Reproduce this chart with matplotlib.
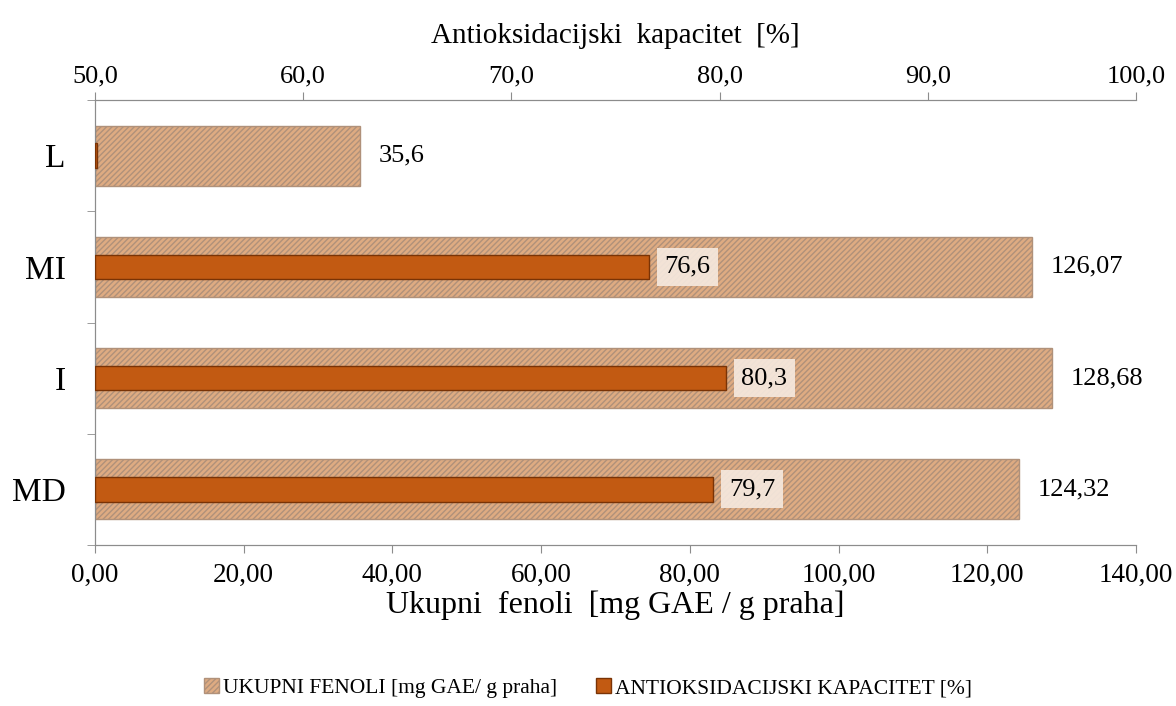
import matplotlib
matplotlib.use("Agg")
import matplotlib.pyplot as plt
from matplotlib.patches import Patch
import numpy as np

plt.rcParams['font.family'] = ['Liberation Serif', 'DejaVu Serif']
plt.rcParams['hatch.color'] = '#F7E6D6'
plt.rcParams['hatch.linewidth'] = 1.0

# podaci
uzorci = ['MD', 'I', 'MI', 'L']
fenoli = [124.32, 128.68, 126.07, 35.6]
fenoli_lbl = ['124,32', '128,68', '126,07', '35,6']
antioks = [79.7, 80.3, 76.6, 50.08]
antioks_lbl = ['79,7', '80,3', '76,6', None]

fig = plt.figure(figsize=(11.76, 7.06), dpi=100)
ax = fig.add_axes([95 / 1176, 1 - 545 / 706, (1136 - 95) / 1176, 445 / 706])
ax2 = ax.twiny()

y = np.arange(len(uzorci))
axis_col = '#8C8C8C'
smeda = '#DEAB82'
smeda_rub = '#B0917A'
narancasta = '#C25A12'

ax.barh(y, fenoli, height=0.54, color=smeda, edgecolor=smeda_rub,
        hatch='//////', linewidth=1.0, zorder=2)
for yi, v, t in zip(y, fenoli, fenoli_lbl):
    ax.text(v + 2.5, yi, t, va='center', ha='left', fontsize=19)

ax.set_xlim(0, 140)
ax.set_ylim(-0.5, 3.5)
ax.set_xticks(np.arange(0, 141, 20))
ax.set_xticklabels([f'{v:.2f}'.replace('.', ',') for v in np.arange(0, 141, 20)])
ax.set_yticks(y)
ax.set_yticklabels(uzorci, fontsize=24)
ax.set_yticks(np.arange(-0.5, 3.6, 1), minor=True)
ax.tick_params(axis='y', which='major', length=0, pad=21)
ax.tick_params(axis='y', which='minor', length=6, color=axis_col)
ax.tick_params(axis='x', labelsize=19.5, length=6, color=axis_col, pad=7)
ax.set_xlabel('Ukupni  fenoli  [mg GAE / g praha]', fontsize=23, labelpad=2)

ax2.barh(y, np.array(antioks) - 50, left=50, height=0.22, color=narancasta,
         edgecolor='#7A3305', linewidth=1.0, zorder=3)
for yi, v, t in zip(y, antioks, antioks_lbl):
    if t is None:
        continue
    ax2.text(v + 0.75, yi, t, va='center', ha='left', fontsize=19, zorder=4,
             bbox=dict(boxstyle='square,pad=0.3', facecolor='#F6EAE0',
                       edgecolor='none', alpha=0.9))
ax2.set_xlim(50, 100)
ax2.set_xticks(np.arange(50, 101, 10))
ax2.set_xticklabels([f'{v:.1f}'.replace('.', ',') for v in np.arange(50, 101, 10)])
ax2.tick_params(axis='x', labelsize=19, length=6, color=axis_col, pad=3)
ax2.set_xlabel('Antioksidacijski  kapacitet  [%]', fontsize=21, labelpad=16)

for a in (ax, ax2):
    a.spines['right'].set_visible(False)
    a.spines['left'].set_color(axis_col)
    a.spines['bottom'].set_color(axis_col)
    a.spines['top'].set_color(axis_col)

handles = [Patch(facecolor=smeda, edgecolor=smeda_rub, hatch='//////'),
           Patch(facecolor=narancasta, edgecolor='#7A3305')]
fig.legend(handles, ['UKUPNI FENOLI [mg GAE/ g praha]', 'ANTIOKSIDACIJSKI KAPACITET [%]'],
           loc='center', bbox_to_anchor=(0.5, 1 - 688 / 706), ncol=2, frameon=False,
           fontsize=15.5, handlelength=0.7, handleheight=0.7, handletextpad=0.2,
           columnspacing=1.8)

fig.savefig('out.png', dpi=100)
